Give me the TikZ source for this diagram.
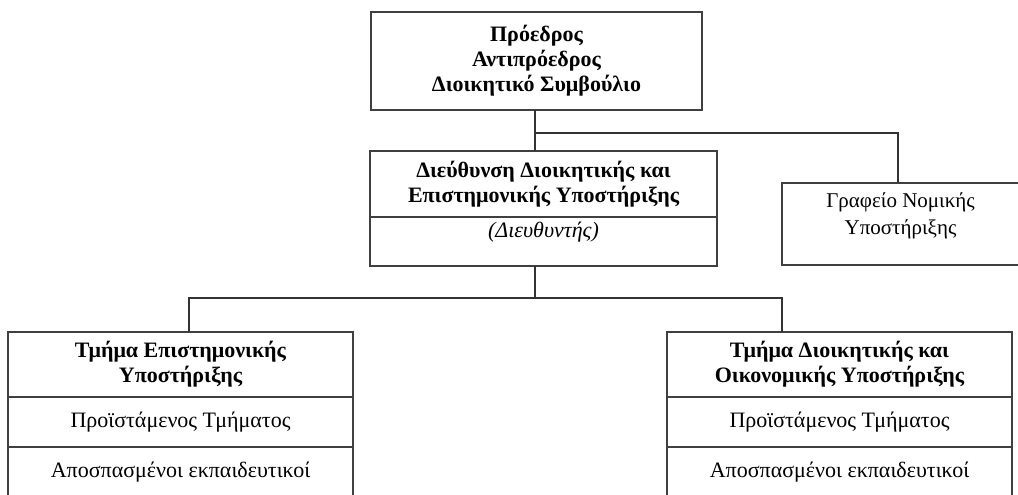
\documentclass[tikz,border=0pt]{standalone}
\usepackage{fontspec}
\setmainfont{Liberation Serif}
\usetikzlibrary{positioning}

\begin{document}
\begin{tikzpicture}[
  x=0.5pt, y=-0.5pt,
  box/.style  = {rectangle, draw=black!75, line width=0.6pt, outer sep=0pt,
                 align=center, font=\fontsize{11}{12.5}\selectfont},
  head/.style = {box, font=\fontsize{11}{12.5}\selectfont\bfseries},
  cell/.style = {box, minimum width=172.5pt, minimum height=25pt},
  conn/.style = {draw=black!80, line width=0.6pt},
  node distance = 0pt,
]
  \clip (0,0) rectangle (1018,494);

  % board and direction
  \node[head, minimum width=165.5pt, minimum height=49pt] (pres) at (536.5,61)
    {Πρόεδρος\\Αντιπρόεδρος\\Διοικητικό Συμβούλιο};
  \node[head, minimum width=173.5pt, minimum height=33pt] (dir) at (543.5,184)
    {Διεύθυνση Διοικητικής και\\Επιστημονικής Υποστήριξης};
  \node[box, below=of dir, minimum width=173.5pt, minimum height=24.5pt,
        inner ysep=0pt, text depth=11.5pt,
        font=\fontsize{11}{12.5}\selectfont\itshape] (dirsub) {(Διευθυντής)};
  \node[box, minimum width=118.5pt, minimum height=41pt, inner ysep=0pt,
        text depth=10pt, font=\fontsize{10.5}{13.5}\selectfont]
    (legal) at (900.5,224) {Γραφείο Νομικής\\Υποστήριξης};

  % departments
  \node[head, minimum width=172.5pt, minimum height=32.5pt] (lhead) at (180.5,364.5)
    {Τμήμα Επιστημονικής\\Υποστήριξης};
  \node[cell, below=of lhead] (lchief) {Προϊστάμενος Τμήματος};
  \node[cell, below=of lchief] (lstaff) {Αποσπασμένοι εκπαιδευτικοί};

  \node[head, minimum width=172.5pt, minimum height=32.5pt] (rhead) at (839.5,364.5)
    {Τμήμα Διοικητικής και\\Οικονομικής Υποστήριξης};
  \node[cell, below=of rhead] (rchief) {Προϊστάμενος Τμήματος};
  \node[cell, below=of rchief] (rstaff) {Αποσπασμένοι εκπαιδευτικοί};

  % connectors
  \coordinate (topj) at (535,133);
  \coordinate (legj) at (898,133);
  \coordinate (midj) at (535,298);
  \coordinate (lj) at (189,298);
  \coordinate (rj) at (782,298);

  \draw[conn] (pres.south -| topj) -- (dir.north -| topj);
  \draw[conn] (topj) -- (legj) -- (legal.north -| legj);
  \draw[conn] (dirsub.south -| midj) -- (midj);
  \draw[conn] (lhead.north -| lj) |- (rj) -- (rhead.north -| rj);
\end{tikzpicture}
\end{document}
